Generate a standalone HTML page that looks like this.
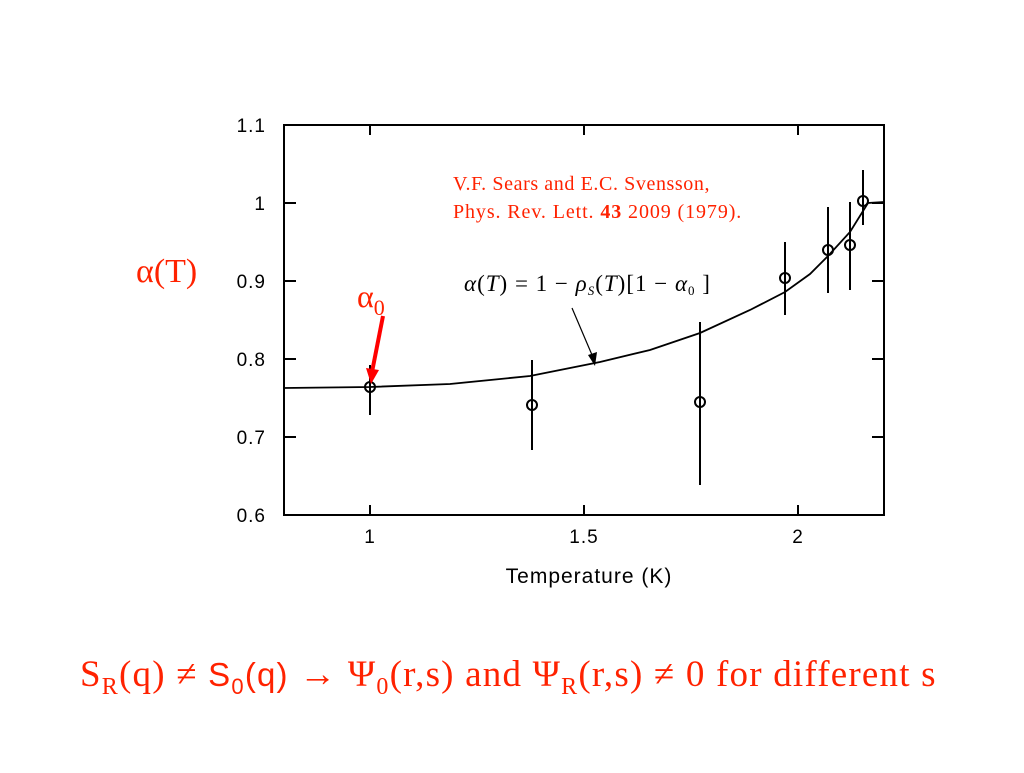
<!DOCTYPE html>
<html><head><meta charset="utf-8"><style>
body{margin:0;background:#fff;width:1024px;height:768px;overflow:hidden}
</style></head><body>
<svg width="1024" height="768" xmlns="http://www.w3.org/2000/svg">
<rect width="1024" height="768" fill="#fff"/>
<g stroke="#000" stroke-width="2" fill="none">
<rect x="284" y="125" width="600" height="390"/>
<path d="M284 203h12M284 281h12M284 359h12M284 437h12M884 203h-12M884 281h-12M884 359h-12M884 437h-12"/>
<path d="M370 515v-10M584 515v-10M798 515v-10M370 125v10M584 125v10M798 125v10"/>
</g>
<g font-family="Liberation Sans, sans-serif" font-size="19" fill="#000" text-anchor="end" letter-spacing="1">
<text x="266" y="132">1.1</text><text x="266" y="210">1</text><text x="266" y="288">0.9</text>
<text x="266" y="366">0.8</text><text x="266" y="444">0.7</text><text x="266" y="522">0.6</text>
</g>
<g font-family="Liberation Sans, sans-serif" font-size="19" fill="#000" text-anchor="middle" letter-spacing="1">
<text x="370" y="543">1</text><text x="584" y="543">1.5</text><text x="798" y="543">2</text>
<text x="589" y="583" font-size="21">Temperature (K)</text>
</g>
<path d="M284 388 L370 387 L450 384 L530 376 L600 362 L650 350 L700 333 L750 310 L785 292 L810 274 L828 256 L850 232 L868 203 L884 202" stroke="#000" stroke-width="1.8" fill="none"/>
<g stroke="#000" stroke-width="2" fill="none">
<path d="M370 365v50M532 360v90M700 322v163M785 242v73M828 207v86M850 202v88M863 170v55"/>
<circle cx="370" cy="387" r="5"/><circle cx="532" cy="405" r="5"/><circle cx="700" cy="402" r="5"/>
<circle cx="785" cy="278" r="5"/><circle cx="828" cy="250" r="5"/><circle cx="850" cy="245" r="5"/><circle cx="863" cy="201" r="5"/>
</g>
<path d="M572 308 L595 362" stroke="#000" stroke-width="1.2"/>
<path d="M595 366 L588 355 L597 352Z" fill="#000"/>
<text x="464" y="291" font-family="Liberation Serif, serif" font-size="23" letter-spacing="1" fill="#000"><tspan font-style="italic">α</tspan>(<tspan font-style="italic">T</tspan>) = 1 − <tspan font-style="italic">ρ</tspan><tspan font-size="13" dy="4" font-style="italic">S</tspan><tspan dy="-4">(</tspan><tspan font-style="italic">T</tspan>)[1 − <tspan font-style="italic">α</tspan><tspan font-size="13" dy="4">0</tspan><tspan dy="-4"> ]</tspan></text>
<g font-family="Liberation Serif, serif" fill="#ff2200">
<text x="453" y="190" font-size="20" letter-spacing="0.6">V.F. Sears and E.C. Svensson,</text>
<text x="453" y="218" font-size="20" letter-spacing="0.9">Phys. Rev. Lett. <tspan font-weight="bold">43</tspan> 2009 (1979).</text>
<text x="136" y="282" font-size="34">α(T)</text>
<text x="357" y="307" font-size="32">α<tspan font-size="22" dy="8">0</tspan></text>
<text x="80" y="686" font-size="37" letter-spacing="1.2">S<tspan font-size="24" dy="8">R</tspan><tspan dy="-8">(q) ≠ </tspan><tspan font-family="Liberation Sans, sans-serif" font-size="33">S</tspan><tspan font-size="22" dy="8" font-family="Liberation Sans, sans-serif">0</tspan><tspan dy="-8" font-family="Liberation Sans, sans-serif" font-size="33">(q)</tspan> → Ψ<tspan font-size="24" dy="8">0</tspan><tspan dy="-8">(r,s) and Ψ</tspan><tspan font-size="24" dy="8">R</tspan><tspan dy="-8">(r,s) ≠ 0 for different s</tspan></text>
</g>
<path d="M383 316 L372 372" stroke="#ff0000" stroke-width="4"/>
<path d="M366 368 L371 384 L379 370Z" fill="#ff0000"/>
</svg>
</body></html>
